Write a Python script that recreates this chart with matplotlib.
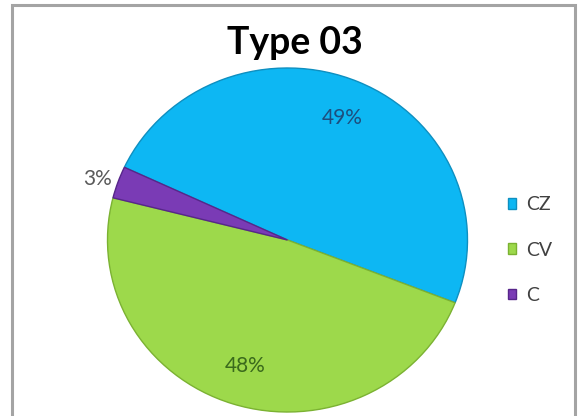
import numpy as np
import matplotlib.pyplot as plt
from matplotlib.patches import Rectangle

plt.rcParams['font.family'] = ['Lato', 'DejaVu Sans']

labels = ['CZ', 'CV', 'C']
values = [49, 48, 3]
colors = ['#0DB7F3', '#9DD94B', '#7A3BB5']
edge_colors = ['#0E8FC0', '#7BB232', '#57268A']
pct_colors = ['#1D4E7E', '#3A6A1C', '#5A5A5A']

fig = plt.figure(figsize=(5.84, 4.16), dpi=100)
fig.patch.set_facecolor('white')

# chart frame (bottom edge runs off the image)
fig.add_artist(Rectangle((12 / 584, -0.05), 563 / 584, 1.05 - 5 / 416,
                         transform=fig.transFigure, fill=False,
                         edgecolor='#A4A4A4', linewidth=2.2))

fig.text(0.505, 0.896, 'Type 03', ha='center', va='center',
         fontsize=27, fontweight='bold', color='black')

# pie drawn as a slightly wide ellipse
ax = fig.add_axes([107.5 / 584, 4 / 416, 360 / 584, 344 / 416])
wedges, texts, autotexts = ax.pie(values, colors=colors, startangle=155,
                                  counterclock=False, autopct='%1.0f%%',
                                  pctdistance=0.77, radius=1.0,
                                  wedgeprops=dict(linewidth=1.0))
for w, ec in zip(wedges, edge_colors):
    w.set_edgecolor(ec)
for t, c in zip(autotexts, pct_colors):
    t.set_color(c)
    t.set_fontsize(15)

# small slice label sits outside the pie
w = wedges[2]
mid = np.deg2rad((w.theta1 + w.theta2) / 2)
autotexts[2].set_position((1.12 * np.cos(mid), 1.12 * np.sin(mid) - 0.02))

ax.set_xlim(-1, 1)
ax.set_ylim(-1, 1)
ax.set_aspect('auto')
ax.axis('off')

leg = fig.legend(wedges, labels, loc='center left',
                 bbox_to_anchor=(490 / 584, 1 - 250 / 416),
                 frameon=False, fontsize=14, handlelength=0.45,
                 handleheight=0.45, handletextpad=0.5, labelspacing=1.45)
for t in leg.get_texts():
    t.set_color('#404040')

plt.savefig('out.png', dpi=100)
